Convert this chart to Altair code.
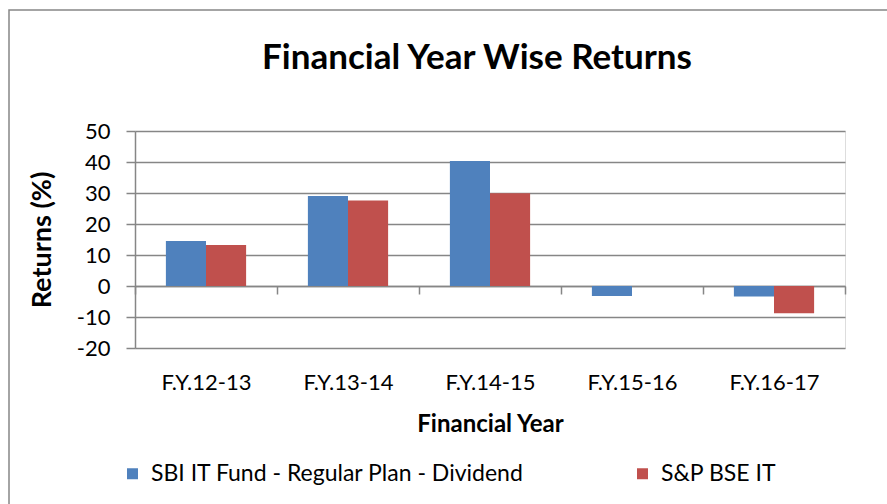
import altair as alt
import pandas as pd

years = ["F.Y.12-13", "F.Y.13-14", "F.Y.14-15", "F.Y.15-16", "F.Y.16-17"]
series = ["SBI IT Fund - Regular Plan - Dividend", "S&P BSE IT"]
sbi = [14.5, 29.0, 40.3, -3.2, -3.4]
bse = [13.2, 27.6, 29.9, 0.0, -8.8]
y_ticks = [-20, -10, 0, 10, 20, 30, 40, 50]
colors = ["#4F81BD", "#C0504D"]

rows = []
for i, yr in enumerate(years):
    rows.append({"year": yr, "series": series[0], "value": sbi[i]})
    rows.append({"year": yr, "series": series[1], "value": bse[i]})
df = pd.DataFrame(rows)

FONT = "Lato"
GRAY = "#868686"

bars = alt.Chart(df).mark_bar().encode(
    x=alt.X(
        "year:N", sort=years,
        scale=alt.Scale(paddingInner=0, paddingOuter=0),
        axis=alt.Axis(
            title="Financial Year", offset=-62, tickBand="extent",
            domainColor=GRAY, domainWidth=1.5, tickColor=GRAY, tickWidth=1.5,
            tickSize=8, labelPadding=78, labelAngle=0, labelFont=FONT,
            labelFontSize=22, labelColor="black", titleFont=FONT,
            titleFontSize=24, titleFontWeight="bold", titleColor="black",
            titlePadding=19,
        ),
    ),
    xOffset=alt.XOffset("series:N", sort=series,
                        scale=alt.Scale(paddingInner=0, paddingOuter=0.77)),
    y=alt.Y(
        "value:Q",
        scale=alt.Scale(domain=[-20, 50], nice=False, zero=False),
        axis=alt.Axis(
            values=y_ticks, title="Returns (%)", grid=True, gridColor=GRAY,
            gridWidth=1.5, domainColor=GRAY, domainWidth=1.5, tickColor=GRAY,
            tickWidth=1.5, tickSize=9, labelPadding=16, labelFont=FONT,
            labelFontSize=22, labelColor="black", titleFont=FONT,
            labelExpr="'' + datum.value",
            titleFontSize=27, titleFontWeight="bold", titleColor="black",
            titlePadding=20,
        ),
    ),
    color=alt.Color(
        "series:N", sort=series,
        scale=alt.Scale(domain=series, range=colors),
        legend=alt.Legend(
            title=None, orient="none", legendX=-14, legendY=331,
            direction="horizontal", symbolType="square", symbolSize=121,
            symbolStrokeWidth=0, labelFont=FONT, labelFontSize=23,
            labelColor="black", columnPadding=107, labelOffset=7,
            labelLimit=600,
        ),
    ),
)

border = alt.Chart(pd.DataFrame({"a": [0]})).mark_rect(
    fill=None, stroke=GRAY, strokeWidth=1.5
).encode(
    x=alt.value(-126), x2=alt.value(762), y=alt.value(-121), y2=alt.value(383)
)

chart = alt.layer(border, bars).properties(
    width=710, height=217,
    title=alt.Title("Financial Year Wise Returns", font=FONT, fontSize=35,
                    fontWeight="bold", color="black", offset=-67, dx=-13),
    autosize=alt.AutoSizeParams(type="none"),
    padding={"left": 135, "top": 131, "right": 42, "bottom": 156},
).configure_view(stroke=None).configure(background="white")

chart.save("out.html", embed_options={"renderer": "svg", "actions": False})
